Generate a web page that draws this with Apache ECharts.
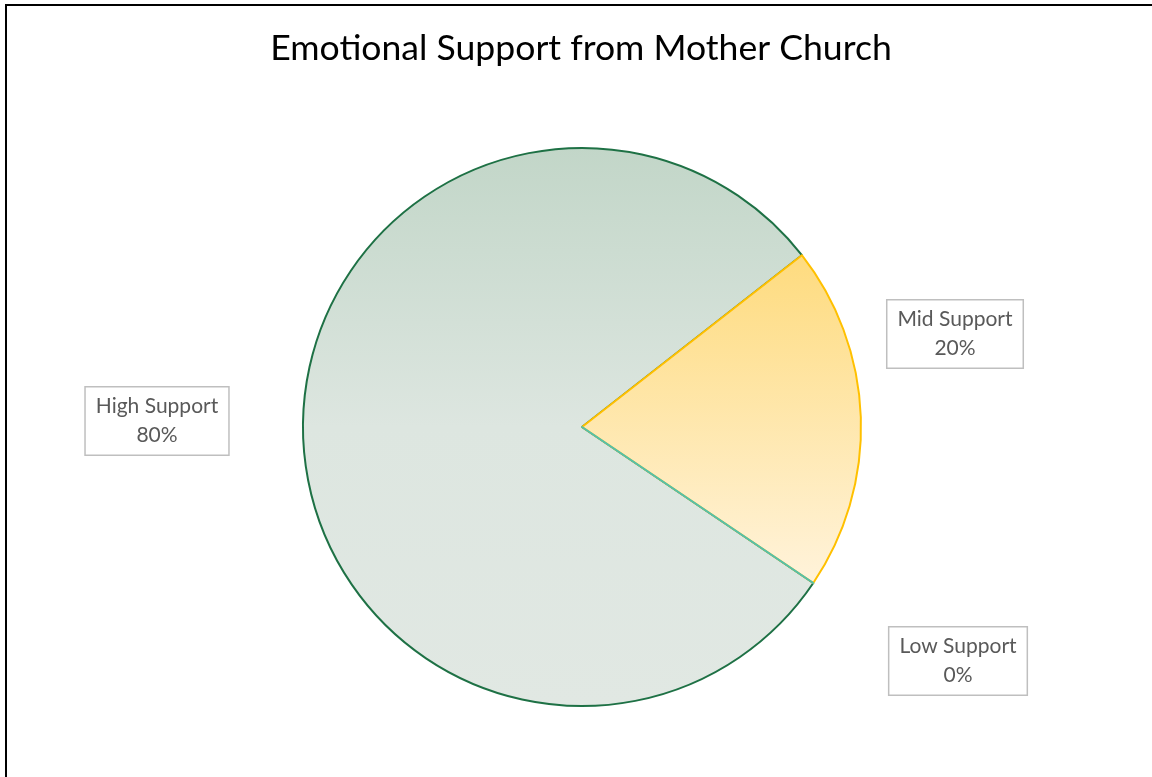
<!DOCTYPE html>
<html>
<head>
<meta charset="utf-8">
<title>Emotional Support from Mother Church</title>
<script src="https://cdn.jsdelivr.net/npm/echarts@6/dist/echarts.min.js"></script>
<style>
  html, body { margin: 0; padding: 0; background: #ffffff; }
  #chart { width: 1152px; height: 777px; }
</style>
</head>
<body>
<div id="chart"></div>
<script>
// Categories and their shares (percent)
const categories = ['High Support', 'Mid Support', 'Low Support'];
const values = [80, 20, 0];

// Where each data label box sits (centre of the box, in pixels)
const labelSpots = [
  { x: 157, y: 421 },
  { x: 955, y: 334 },
  { x: 958, y: 661 }
];

const sliceStyles = [
  {
    color: {
      type: 'linear', x: 0, y: 0, x2: 0, y2: 1,
      colorStops: [
        { offset: 0, color: '#c2d6c8' },
        { offset: 0.5, color: '#dde6e0' },
        { offset: 1, color: '#e1e8e3' }
      ]
    },
    borderColor: '#1e7145'
  },
  {
    color: {
      type: 'linear', x: 0, y: 0, x2: 0, y2: 1,
      colorStops: [
        { offset: 0, color: '#fedb7e' },
        { offset: 1, color: '#fff3db' }
      ]
    },
    borderColor: '#ffc000'
  },
  {
    color: '#e1e8e3',
    borderColor: '#52c0ae'
  }
];

const chart = echarts.init(document.getElementById('chart'), null, { renderer: 'canvas' });

chart.setOption({
  backgroundColor: '#ffffff',
  animation: false,
  title: {
    text: 'Emotional Support from Mother Church',
    left: 576,
    textAlign: 'center',
    top: 26,
    textStyle: {
      fontFamily: 'Lato, "Open Sans", sans-serif',
      fontSize: 35.6,
      fontWeight: 'normal',
      color: '#000000'
    }
  },
  graphic: [
    {
      type: 'rect',
      shape: { x: 6, y: 5, width: 1160, height: 800 },
      style: { fill: 'none', stroke: '#000000', lineWidth: 2 },
      silent: true
    }
  ],
  series: [
    {
      type: 'pie',
      center: [582, 427],
      radius: 279,
      startAngle: 326,
      clockwise: true,
      minAngle: 0,
      avoidLabelOverlap: false,
      data: categories.map((name, i) => ({
        name: name,
        value: values[i],
        itemStyle: Object.assign({ borderWidth: 2 }, sliceStyles[i])
      })),
      label: {
        show: true,
        position: 'outside',
        formatter: p => p.name + '\n' + p.value + '%',
        fontFamily: 'Lato, "Open Sans", sans-serif',
        fontSize: 21,
        lineHeight: 29,
        color: '#595959',
        align: 'center',
        backgroundColor: '#ffffff',
        borderColor: '#bfbfbf',
        borderWidth: 1.5,
        padding: [5, 10, 4, 10]
      },
      labelLine: { show: false },
      labelLayout: params => ({
        x: labelSpots[params.dataIndex].x,
        y: labelSpots[params.dataIndex].y,
        align: 'center',
        verticalAlign: 'middle'
      }),
      emphasis: { disabled: true }
    }
  ]
});
</script>
</body>
</html>
